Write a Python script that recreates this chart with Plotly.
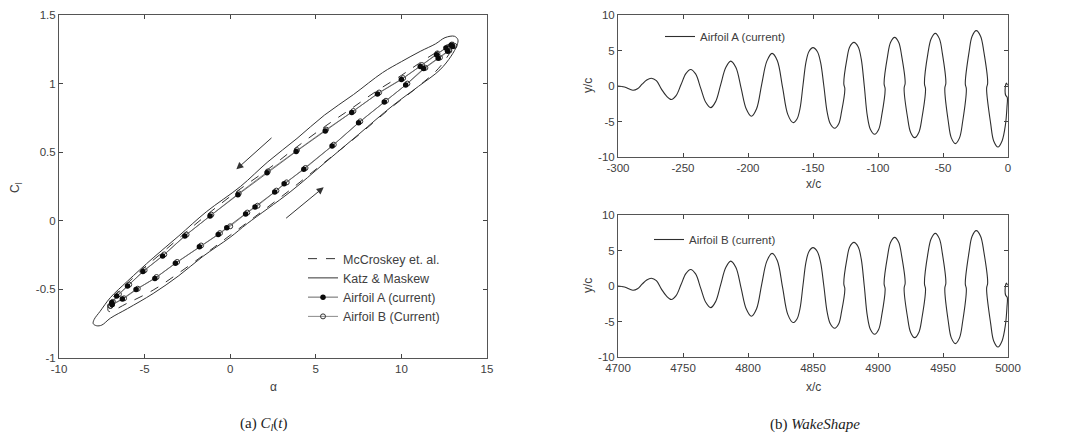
import plotly.graph_objects as go

# ---------------- Left panel: Cl vs alpha ----------------
alpha_mc = [13.1, 12.0, 11.0, 10.0, 8.6, 7.1, 5.5, 3.8, 2.2, 0.4,
            -1.2, -2.6, -4.0, -5.1, -6.0, -6.7, -7.1, -7.1, -6.0, -4.5,
            -3.0, -1.5, 0.0, 1.5, 3.5, 5.5, 7.5, 9.5, 11.0, 12.3, 13.1]
cl_mc = [1.30, 1.225, 1.145, 1.06, 0.95, 0.82, 0.685, 0.53, 0.375, 0.215,
         0.06, -0.085, -0.235, -0.35, -0.455, -0.54, -0.60, -0.66, -0.60, -0.505,
         -0.38, -0.245, -0.105, 0.035, 0.225, 0.425, 0.625, 0.835, 0.98, 1.13, 1.30]

alpha_katz = [13.3, 13.1, 12.55, 12.0, 11.1, 10.0, 8.9, 7.2, 5.5, 3.9,
              2.2, 0.6, -1.4, -3.0, -4.5, -6.0, -7.0, -7.6, -7.95, -8.0,
              -7.8, -7.5, -7.0, -6.0, -4.5, -3.0, -1.6, 0.0, 1.0, 3.5,
              5.5, 7.5, 9.5, 11.0, 12.25, 12.9, 13.25, 13.3]
cl_katz = [1.32, 1.345, 1.335, 1.29, 1.235, 1.16, 1.08, 0.92, 0.77, 0.60,
           0.43, 0.25, 0.065, -0.11, -0.27, -0.44, -0.56, -0.66, -0.72, -0.75,
           -0.765, -0.76, -0.71, -0.64, -0.53, -0.40, -0.26, -0.12, -0.02, 0.21,
           0.42, 0.63, 0.84, 0.98, 1.10, 1.20, 1.28, 1.32]

alpha_a = [-6.9, -6.3, -5.5, -4.4, -3.2, -1.8, -0.7, -0.2, 0.9, 1.45, 2.6, 3.15, 4.3, 5.95, 7.5, 9.0, 10.25, 11.3, 12.15, 12.7, 13.0,
           12.9, 12.6, 12.05, 11.1, 10.0, 8.6, 7.1, 5.55, 3.85, 2.15, 0.45, -1.18, -2.65, -3.95, -5.1, -6.0, -6.63, -6.92, -6.9]
cl_a = [-0.61, -0.57, -0.50, -0.42, -0.31, -0.19, -0.10, -0.05, 0.05, 0.10, 0.21, 0.27, 0.375, 0.545, 0.715, 0.865, 0.99, 1.11, 1.185, 1.235, 1.27,
        1.28, 1.26, 1.21, 1.125, 1.03, 0.925, 0.79, 0.655, 0.505, 0.35, 0.19, 0.035, -0.11, -0.257, -0.37, -0.476, -0.549, -0.595, -0.61]

alpha_b = [-7.0, -6.2, -5.4, -4.3, -3.1, -1.7, -0.6, 0.0, 1.0, 1.6, 2.7, 3.3, 4.4, 6.05, 7.6, 9.1, 10.35, 11.4, 12.25, 12.8, 13.1,
           12.95, 12.7, 12.1, 11.2, 10.1, 8.7, 7.2, 5.6, 3.9, 2.2, 0.5, -1.1, -2.55, -3.85, -5.0, -5.9, -6.5, -6.85, -7.0]
cl_b = [-0.62, -0.565, -0.495, -0.41, -0.30, -0.18, -0.09, -0.04, 0.06, 0.11, 0.22, 0.28, 0.385, 0.555, 0.725, 0.875, 1.0, 1.115, 1.19, 1.24, 1.275,
        1.285, 1.265, 1.22, 1.135, 1.04, 0.935, 0.80, 0.665, 0.515, 0.36, 0.20, 0.045, -0.10, -0.245, -0.36, -0.465, -0.535, -0.59, -0.62]

# arrows (tail -> head) in data coords
arrow_down_tail = (2.5, 0.614)
arrow_down_head = (0.36, 0.375)
arrow_up_tail = (3.18, 0.01)
arrow_up_head = (5.46, 0.244)

left_xticks = [-10, -5, 0, 5, 10, 15]
left_xticktext = ["-10", "-5", "0", "5", "10", "15"]
left_yticks = [-1, -0.5, 0, 0.5, 1, 1.5]
left_yticktext = ["-1", "-0.5", "0", "0.5", "1", "1.5"]

# ---------------- Right panels: wake shapes ----------------
wake_a_x = [-300.0, -295.0, -288.5, -285.0, -281.5, -277.9, -274.4, -270.5, -266.7, -262.8,
            -259.0, -255.3, -251.5, -247.8, -244.1, -240.3, -236.4, -232.5, -228.7, -224.9,
            -221.0, -217.1, -213.3, -209.3, -205.3, -201.4, -197.4, -193.4, -189.5, -185.5,
            -181.5, -177.5, -173.4, -169.4, -165.4, -162.3, -160.0, -157.7, -155.4, -153.1,
            -150.0, -146.7, -144.2, -141.65, -139.1, -136.6, -133.3, -130.3, -128.1, -125.5,
            -126.3, -123.9, -121.7, -118.5, -115.3, -112.9, -110.55, -108.2, -105.8, -102.6,
            -99.5, -97.2, -94.5, -95.3, -92.6, -90.3, -87.2, -84.1, -81.8, -79.1,
            -79.9, -77.2, -74.9, -71.8, -68.6, -66.2, -63.45, -64.25, -61.6, -59.1,
            -55.9, -52.8, -50.5, -47.8, -48.6, -45.9, -43.6, -40.5, -37.3, -34.9,
            -32.05, -32.85, -29.9, -27.6, -24.4, -21.1, -18.6, -15.65, -16.45, -13.3,
            -11.0, -7.7, -4.5, -2.0, -0.8, -0.6, -1.8, -2.2, -1.2, -0.4]
wake_a_y = [0.0, -0.15, -0.6, -0.4, 0.25, 0.85, 1.1, 0.75, -0.4, -1.4,
            -1.9, -1.35, 0.2, 1.75, 2.33, 1.7, -0.3, -2.3, -3.05, -2.2,
            0.2, 2.6, 3.5, 2.6, -0.3, -3.2, -4.26, -3.2, 0.2, 3.5,
            4.6, 3.6, -0.2, -4.0, -5.15, -4.64, -3.19, 0.1, 3.35, 4.86,
            5.4, 4.86, 3.35, 0.0, -3.69, -5.36, -5.95, -5.36, -3.69, -0.4,
            0.3, 3.81, 5.53, 6.14, 5.53, 3.81, 0.0, -4.22, -6.12, -6.8,
            -6.12, -4.22, -0.4, 0.3, 4.25, 6.17, 6.85, 6.17, 4.25, 0.4,
            -0.3, -4.51, -6.54, -7.27, -6.54, -4.51, -0.4, 0.3, 4.59, 6.67,
            7.41, 6.67, 4.59, 0.4, -0.3, -5.03, -7.31, -8.12, -7.31, -5.03,
            -0.4, 0.3, 4.84, 7.02, 7.8, 7.02, 4.84, 0.4, -0.3, -5.33,
            -7.74, -8.6, -7.7, -5.5, -3.0, -1.6, -1.3, -0.4, 0.4, 0.1]

wake_b_x = [4700.0, 4705.0, 4711.5, 4715.0, 4718.5, 4722.1, 4725.6, 4729.5, 4733.3, 4737.2,
            4741.0, 4744.7, 4748.5, 4752.2, 4755.9, 4759.7, 4763.6, 4767.5, 4771.3, 4775.1,
            4779.0, 4782.9, 4786.7, 4790.7, 4794.7, 4798.6, 4802.6, 4806.6, 4810.5, 4814.5,
            4818.5, 4822.5, 4826.6, 4830.6, 4834.6, 4837.7, 4840.0, 4842.3, 4844.6, 4846.9,
            4850.0, 4853.3, 4855.8, 4858.35, 4860.9, 4863.4, 4866.7, 4869.7, 4871.9, 4874.5,
            4873.7, 4876.1, 4878.3, 4881.5, 4884.7, 4887.1, 4889.45, 4891.8, 4894.2, 4897.4,
            4900.5, 4902.8, 4905.5, 4904.7, 4907.4, 4909.7, 4912.8, 4915.9, 4918.2, 4920.9,
            4920.1, 4922.8, 4925.1, 4928.2, 4931.4, 4933.8, 4936.55, 4935.75, 4938.4, 4940.9,
            4944.1, 4947.2, 4949.5, 4952.2, 4951.4, 4954.1, 4956.4, 4959.5, 4962.7, 4965.1,
            4967.95, 4967.15, 4970.1, 4972.4, 4975.6, 4978.9, 4981.4, 4984.35, 4983.55, 4986.7,
            4989.0, 4992.3, 4995.5, 4998.0, 4999.2, 4999.4, 4998.2, 4997.8, 4998.8, 4999.6]
wake_b_y = [0.0, -0.15, -0.6, -0.4, 0.25, 0.85, 1.1, 0.75, -0.4, -1.4,
            -1.9, -1.35, 0.2, 1.75, 2.33, 1.7, -0.3, -2.3, -3.05, -2.2,
            0.2, 2.6, 3.5, 2.6, -0.3, -3.2, -4.26, -3.2, 0.2, 3.5,
            4.6, 3.6, -0.2, -4.0, -5.15, -4.64, -3.19, 0.1, 3.35, 4.86,
            5.4, 4.86, 3.35, 0.0, -3.69, -5.36, -5.95, -5.36, -3.69, -0.4,
            0.3, 3.81, 5.53, 6.14, 5.53, 3.81, 0.0, -4.22, -6.12, -6.8,
            -6.12, -4.22, -0.4, 0.3, 4.25, 6.17, 6.85, 6.17, 4.25, 0.4,
            -0.3, -4.51, -6.54, -7.27, -6.54, -4.51, -0.4, 0.3, 4.59, 6.67,
            7.41, 6.67, 4.59, 0.4, -0.3, -5.03, -7.31, -8.12, -7.31, -5.03,
            -0.4, 0.3, 4.84, 7.02, 7.8, 7.02, 4.84, 0.4, -0.3, -5.33,
            -7.74, -8.6, -7.7, -5.5, -3.0, -1.6, -1.3, -0.4, 0.4, 0.1]

wake_yticks = [-10, -5, 0, 5, 10]
wake_yticktext = ["-10", "-5", "0", "5", "10"]
wake_a_xticks = [-300, -250, -200, -150, -100, -50, 0]
wake_a_xticktext = ["-300", "-250", "-200", "-150", "-100", "-50", "0"]
wake_b_xticks = [4700, 4750, 4800, 4850, 4900, 4950, 5000]
wake_b_xticktext = ["4700", "4750", "4800", "4850", "4900", "4950", "5000"]

W, H = 1071, 439
FONT = "Liberation Sans"
TXT = "#404040"

fig = go.Figure()

fig.add_trace(go.Scatter(x=alpha_mc, y=cl_mc, mode="lines", name="McCroskey et. al.",
                         line=dict(color="#333", width=1, dash="dash", shape="spline"),
                         xaxis="x", yaxis="y", legend="legend", legendrank=1))
fig.add_trace(go.Scatter(x=alpha_katz, y=cl_katz, mode="lines", name="Katz &amp; Maskew",
                         line=dict(color="#333", width=1, shape="spline"),
                         xaxis="x", yaxis="y", legend="legend", legendrank=2))
fig.add_trace(go.Scatter(x=alpha_b, y=cl_b, mode="lines+markers", name="Airfoil B (Current)",
                         line=dict(color="#8a8a8a", width=1),
                         marker=dict(symbol="circle-open", size=5, color="#333", line=dict(width=1)),
                         xaxis="x", yaxis="y", legend="legend", legendrank=4))
fig.add_trace(go.Scatter(x=alpha_a, y=cl_a, mode="lines+markers", name="Airfoil A (current)",
                         line=dict(color="#666", width=1),
                         marker=dict(symbol="circle", size=5.5, color="#0a0a0a"),
                         xaxis="x", yaxis="y", legend="legend", legendrank=3))

fig.add_trace(go.Scatter(x=wake_a_x, y=wake_a_y, mode="lines", name="Airfoil A (current)",
                         line=dict(color="#2e2e2e", width=1.1, shape="spline", smoothing=1.0),
                         xaxis="x2", yaxis="y2", legend="legend2"))
fig.add_trace(go.Scatter(x=wake_b_x, y=wake_b_y, mode="lines", name="Airfoil B (current)",
                         line=dict(color="#2e2e2e", width=1.1, shape="spline", smoothing=1.0),
                         xaxis="x3", yaxis="y3", legend="legend3"))


def axis(domain, rng, tv, tt, anchor):
    return dict(domain=domain, range=rng, tickmode="array", tickvals=tv, ticktext=tt,
                ticks="inside", ticklen=4, tickwidth=1, tickcolor="#444",
                showline=True, linecolor="#555", linewidth=1, mirror="ticks",
                showgrid=False, zeroline=False, anchor=anchor, automargin=False,
                tickfont=dict(family=FONT, size=11.5, color=TXT))


L_x = [59 / W, 487 / W]
L_y = [1 - 358 / H, 1 - 15 / H]
R_x = [618 / W, 1008 / W]
RT_y = [1 - 157 / H, 1 - 15 / H]
RB_y = [1 - 357 / H, 1 - 215 / H]


def legend_cfg(x, y, size):
    return dict(x=x / W, y=1 - y / H, bgcolor="rgba(255,255,255,0)", borderwidth=0,
                font=dict(family=FONT, size=size, color=TXT),
                xanchor="left", yanchor="top", xref="paper", yref="paper",
                tracegroupgap=0, traceorder="normal")


fig.update_layout(
    template="none",
    font=dict(family=FONT, color=TXT),
    width=W, height=H, margin=dict(l=0, r=0, t=0, b=0),
    paper_bgcolor="white", plot_bgcolor="white",
    xaxis=axis(L_x, [-10, 15], left_xticks, left_xticktext, "y"),
    yaxis=axis(L_y, [-1, 1.5], left_yticks, left_yticktext, "x"),
    xaxis2=axis(R_x, [-300, 0], wake_a_xticks, wake_a_xticktext, "y2"),
    yaxis2=axis(RT_y, [-10, 10], wake_yticks, wake_yticktext, "x2"),
    xaxis3=axis(R_x, [4700, 5000], wake_b_xticks, wake_b_xticktext, "y3"),
    yaxis3=axis(RB_y, [-10, 10], wake_yticks, wake_yticktext, "x3"),
    legend=legend_cfg(303, 244, 12.5),
    legend2=legend_cfg(660, 22, 11.5),
    legend3=legend_cfg(649, 225, 11.5),
    showlegend=True,
)

ann = []
ann.append(dict(x=arrow_down_head[0], y=arrow_down_head[1], ax=arrow_down_tail[0], ay=arrow_down_tail[1],
                xref="x", yref="y", axref="x", ayref="y", text="", showarrow=True,
                arrowhead=2, arrowsize=1.4, arrowwidth=1, arrowcolor="#333"))
ann.append(dict(x=arrow_up_head[0], y=arrow_up_head[1], ax=arrow_up_tail[0], ay=arrow_up_tail[1],
                xref="x", yref="y", axref="x", ayref="y", text="", showarrow=True,
                arrowhead=2, arrowsize=1.4, arrowwidth=1, arrowcolor="#333"))


def label(text, x, y, angle=0, size=12, family=FONT, color=TXT):
    return dict(text=text, x=x / W, y=1 - y / H, xref="paper", yref="paper", showarrow=False,
                textangle=angle, xanchor="center", yanchor="middle",
                font=dict(family=family, size=size, color=color))


ann.append(label("α", 273, 387))
ann.append(label("C<sub>l</sub>", 16, 188, angle=-90))
ann.append(label("x/c", 813, 184))
ann.append(label("y/c", 588, 86, angle=-90))
ann.append(label("x/c", 813, 387))
ann.append(label("y/c", 588, 286, angle=-90))
ann.append(label("(a) <i>C<sub>l</sub></i>(<i>t</i>)", 264, 424, size=15, family="Liberation Serif", color="#222"))
ann.append(label("(b) <i>WakeShape</i>", 815, 424, size=15, family="Liberation Serif", color="#222"))

fig.update_layout(annotations=ann)

fig.write_html("out.html")
